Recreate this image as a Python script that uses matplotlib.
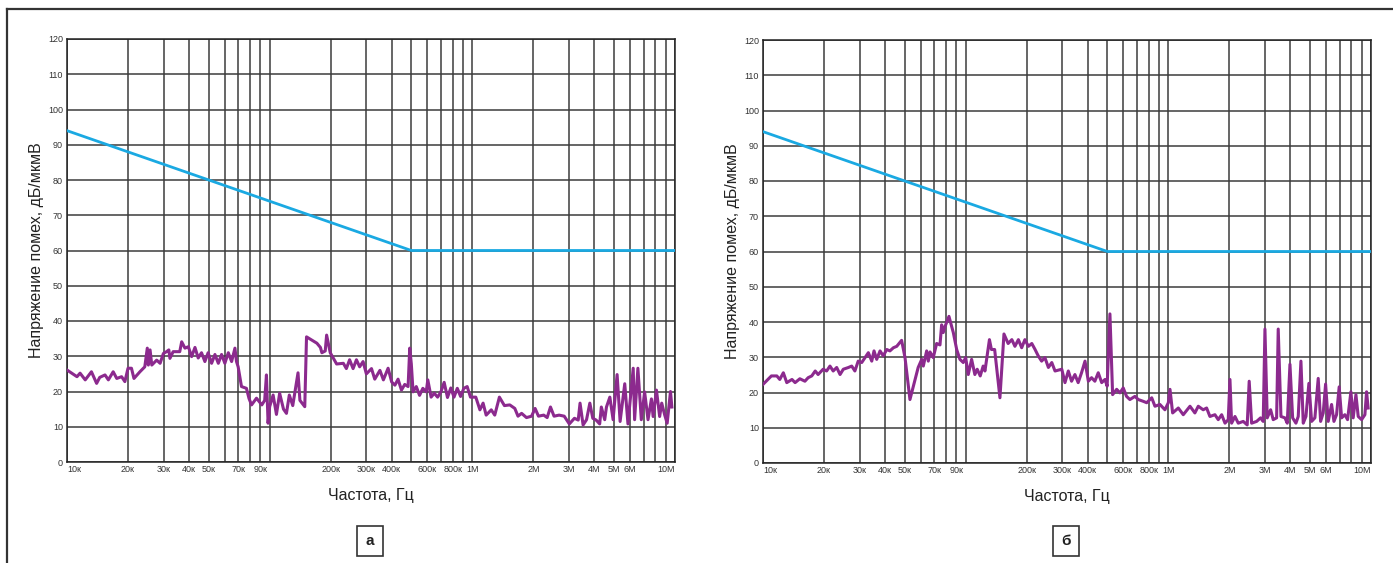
import numpy as np
import matplotlib
matplotlib.use('Agg')
import matplotlib.pyplot as plt
from matplotlib.lines import Line2D

plt.rcParams['font.family'] = ['Liberation Sans', 'DejaVu Sans']

# limit line (kHz, dB)
limit_freq_khz = [10, 500, 10000]
limit_db = [94, 60, 60]

# panel a
left_freq_khz = [10, 11.2, 11.6, 12.3, 13.2, 14.0, 14.5, 15.4, 16.0, 16.9, 17.6, 18.6, 19.3, 20.0, 20.8, 21.4,
                 22.9, 24.2, 24.9, 25.2, 25.7, 26.2, 27.7, 28.8, 29.9, 31.0, 31.8, 32.2, 33.4, 36.0, 36.8, 38.2,
                 39.7, 41.2, 42.8, 44.4, 46.1, 47.9, 49.7, 51.7, 53.7, 55.8, 57.9, 60.1, 62.5, 64.9, 67.4, 68.6,
                 69.9, 72.6, 76.8, 79.1, 81.4, 86.1, 91.5, 94.5, 96.4, 98.2, 100, 104, 108, 112, 117, 121, 125,
                 130, 138, 141, 149, 152, 171, 178, 181, 188, 191, 199, 214, 231, 239, 248, 258, 268, 278, 289,
                 300, 318, 330, 350, 364, 384, 400, 415, 430, 447, 464, 482, 491, 500, 510, 529, 549, 570, 592,
                 603, 626, 649, 674, 700, 726, 754, 783, 812, 843, 875, 908, 943, 979, 1040, 1090, 1130, 1170,
                 1240, 1290, 1360, 1440, 1530, 1620, 1680, 1750, 1850, 1960, 2040, 2120, 2250, 2340, 2430, 2530,
                 2680, 2840, 3010, 3190, 3330, 3400, 3520, 3660, 3800, 3930, 4080, 4250, 4330, 4500, 4590, 4770,
                 4950, 5180, 5360, 5650, 5860, 6220, 6320, 6560, 6820, 7080, 7360, 7650, 7800, 8100, 8400, 8600,
                 8900, 9150, 9500, 9650]
left_db = [26.1, 24.2, 25.2, 23.3, 25.6, 22.3, 24.0, 24.7, 23.3, 25.6, 23.7, 24.2, 22.8, 26.6, 26.6, 23.7,
           25.6, 27.0, 32.3, 27.5, 31.8, 27.5, 28.9, 28.0, 30.8, 31.3, 31.8, 29.4, 31.3, 31.3, 34.1, 32.3,
           32.7, 29.9, 32.5, 29.5, 31.0, 28.5, 31.0, 28.0, 30.5, 28.0, 30.5, 28.0, 31.0, 28.5, 32.3, 28.5,
           27.0, 21.4, 20.9, 18.0, 16.2, 18.1, 16.2, 17.5, 24.7, 11.0, 15.7, 19.0, 13.5, 19.5, 15.0, 13.8, 19.0,
           16.0, 25.3, 17.5, 15.7, 35.5, 33.7, 32.5, 31.0, 31.5, 36.0, 31.0, 27.8, 28.0, 26.5, 29.0, 26.5, 29.0,
           27.0, 28.5, 25.0, 26.5, 23.5, 26.0, 23.3, 26.6, 22.7, 21.8, 23.5, 20.4, 22.0, 21.4, 32.3, 27.8,
           19.9, 21.4, 18.9, 20.9, 19.9, 23.3, 18.4, 19.5, 18.4, 19.9, 22.6, 18.3, 21.0, 18.4, 20.9, 18.6,
           20.9, 21.4, 18.4, 18.4, 14.8, 16.7, 13.3, 14.8, 13.3, 18.4, 16.0, 16.2, 15.2, 13.0, 13.8, 12.6,
           13.0, 15.2, 13.0, 13.3, 12.6, 15.6, 13.0, 13.3, 13.0, 10.8, 12.4, 11.9, 16.7, 10.5, 12.0, 16.7,
           12.4, 11.9, 10.8, 15.6, 12.0, 15.6, 18.4, 12.0, 24.8, 11.5, 22.2, 10.8, 26.6, 12.0, 26.6, 12.0,
           19.9, 12.0, 17.9, 12.9, 20.4, 12.9, 16.7, 13.3, 11.0, 20.0, 15.6]

# panel b
right_freq_khz = [10, 11.0, 11.7, 12.1, 12.6, 13.1, 13.9, 14.4, 15.2, 16.1, 16.7, 17.4, 18.1, 18.7, 19.8, 20.6,
                  21.4, 22.2, 23.1, 24.0, 24.9, 26.4, 27.4, 28.4, 29.5, 30.7, 31.9, 33.1, 34.4, 35.3, 36.4, 37.8,
                  39.2, 40.8, 42.3, 44.0, 45.7, 48.3, 50.2, 53.1, 58.3, 60.7, 61.8, 64.2, 65.4, 66.7, 69.2, 71.9,
                  74.7, 76.1, 77.5, 79.1, 82.7, 86.9, 90.3, 93.7, 97.3, 100, 103, 107, 111, 114, 118, 122, 124.5,
                  131, 134, 139, 147.6, 154.5, 162, 169, 175, 182, 189, 196, 204, 212, 220, 228, 237, 246, 256,
                  266, 276, 298, 309, 321, 333, 346, 359, 373, 388, 403, 418, 434, 451, 469, 487, 499, 515, 531,
                  556, 577, 599, 622, 646, 684, 711, 752, 782, 828, 859, 909, 962, 1000, 1019, 1050, 1120, 1185,
                  1279, 1352, 1405, 1486, 1545, 1604, 1698, 1763, 1833, 1904, 1975, 2014, 2052, 2132, 2213, 2342,
                  2450, 2506, 2576, 2727, 2852, 2939, 2997, 3076, 3197, 3292, 3422, 3485, 3595, 3761, 3862, 3982,
                  4105, 4262, 4375, 4511, 4631, 4775, 4938, 5093, 5286, 5490, 5641, 5810, 5970, 6150, 6391, 6563,
                  6762, 6966, 7161, 7430, 7663, 7958, 8168, 8426, 8648, 8988, 9330, 9510, 9680]
right_db = [22.3, 24.7, 24.7, 23.7, 25.6, 22.8, 23.7, 22.8, 23.9, 23.2, 24.2, 24.7, 26.1, 25.1, 26.6, 26.1,
            27.5, 26.1, 27.1, 25.1, 26.6, 27.1, 27.5, 26.1, 28.9, 28.5, 29.9, 31.3, 28.9, 31.8, 29.4, 31.8,
            30.4, 32.2, 31.8, 32.7, 33.1, 34.8, 29.9, 18.0, 27.1, 29.4, 27.5, 31.8, 28.9, 31.5, 29.9, 33.9,
            33.5, 39.2, 37.0, 38.7, 41.6, 37.0, 32.2, 29.4, 28.5, 29.9, 25.1, 29.4, 25.1, 26.6, 24.7, 27.5, 26.1,
            35.0, 32.2, 32.2, 18.5, 36.6, 33.9, 35.0, 33.1, 35.0, 32.7, 35.0, 33.1, 33.9, 32.2, 30.4, 28.9, 29.9,
            27.1, 28.5, 26.1, 26.6, 22.8, 26.1, 23.2, 25.1, 22.8, 25.6, 28.9, 23.2, 24.2, 23.2, 25.6, 22.8,
            23.7, 21.8, 42.3, 19.4, 20.9, 19.9, 21.3, 18.9, 18.0, 18.9, 18.0, 17.5, 17.1, 18.5, 16.1, 16.6,
            15.1, 17.1, 20.9, 14.2, 15.6, 13.7, 16.1, 14.2, 16.1, 15.1, 15.6, 13.2, 13.7, 12.3, 13.7, 11.3,
            12.3, 23.7, 11.3, 13.2, 11.3, 11.8, 10.8, 23.2, 11.3, 11.8, 12.8, 11.8, 38.0, 12.8, 15.1, 12.3,
            12.8, 38.0, 13.2, 12.8, 11.3, 28.0, 12.8, 11.3, 13.2, 28.9, 11.3, 13.2, 22.6, 11.8, 12.8, 24.0,
            11.8, 14.2, 22.4, 11.8, 16.6, 11.8, 13.7, 21.6, 12.8, 13.7, 12.3, 20.2, 12.8, 19.4, 13.2, 12.3,
            13.7, 20.2, 15.6]

xtick_khz = [10, 20, 30, 40, 50, 70, 90, 200, 300, 400, 600, 800, 1000, 2000, 3000, 4000, 5000, 6000, 10000]
xtick_labels = ['10к', '20к', '30к', '40к', '50к', '70к', '90к', '200к', '300к', '400к', '600к', '800к',
                '1M', '2M', '3M', '4M', '5M', '6M', '10M']
ytick_db = list(range(0, 121, 10))
panel_letters = ['а', 'б']

W, H = 1393, 563
fig = plt.figure(figsize=(W / 100, H / 100), dpi=100)

grid_color = '#3c3c3c'
panels = [(67, 39, 608, 423, left_freq_khz, left_db),
          (763, 40, 608, 423, right_freq_khz, right_db)]

for i, (px, py, pw, ph, fk, db) in enumerate(panels):
    ax = fig.add_axes([px / W, 1 - (py + ph) / H, pw / W, ph / H])
    f = np.array(fk) * 1e3
    ax.set_xscale('log')
    ax.set_xlim(1e4, 1e7)
    ax.set_ylim(0, 120)
    # grid
    grid_f = [m * 10 ** k for k in range(4, 7) for m in range(1, 10)] + [1e7]
    for g in grid_f:
        ax.axvline(g, color=grid_color, lw=1.1, zorder=1)
    for y in ytick_db:
        ax.axhline(y, color=grid_color, lw=1.1, zorder=1)
    ax.plot(np.array(limit_freq_khz) * 1e3, limit_db, color='#1aa9e2', lw=2.0, zorder=3)
    ax.plot(f, db, color='#8c2a8e', lw=2.2, zorder=4)

    ax.set_xticks(np.array(xtick_khz) * 1e3)
    ax.set_xticklabels(xtick_labels)
    ax.xaxis.set_minor_locator(matplotlib.ticker.NullLocator())
    labels = ax.get_xticklabels()
    labels[0].set_horizontalalignment('left')
    labels[-1].set_horizontalalignment('right')
    ax.set_yticks(ytick_db)
    ax.tick_params(length=0, labelsize=6.5, colors='#333333', pad=3)
    ax.tick_params(axis='x', pad=2)
    for s in ax.spines.values():
        s.set_color('#222222')
        s.set_linewidth(1.1)

    ax.set_ylabel('Напряжение помех, дБ/мкмВ', fontsize=11.5, color='#222222', labelpad=3)
    ax.set_xlabel('Частота, Гц', fontsize=11.5, color='#222222', labelpad=10)

    fig.text((px + pw / 2 - 1) / W, 1 - 541 / H, panel_letters[i], fontsize=11, fontweight='bold',
             ha='center', va='center', color='#222222',
             bbox=dict(boxstyle='square,pad=0.55', fc='white', ec='#333333', lw=1.2))

# outer frame
fig.add_artist(Line2D([7 / W, 1], [1 - 9 / H, 1 - 9 / H], color='#333333', lw=1.6))
fig.add_artist(Line2D([7 / W, 7 / W], [0, 1 - 9 / H], color='#333333', lw=1.6))

plt.savefig('out.png', dpi=100, facecolor='white')
